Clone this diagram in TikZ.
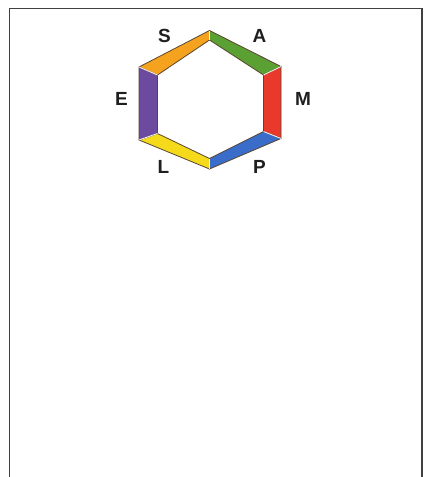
\documentclass[tikz,border=0pt]{standalone}
\usepackage{fontspec}
\setmainfont{Liberation Sans}
\definecolor{cS}{HTML}{F5A21E}
\definecolor{cA}{HTML}{5BA033}
\definecolor{cM}{HTML}{E8392C}
\definecolor{cP}{HTML}{3A6DC9}
\definecolor{cL}{HTML}{F4DA1A}
\definecolor{cE}{HTML}{6B4A9F}
\definecolor{edge}{HTML}{5A4630}
\begin{document}
\begin{tikzpicture}[x=1pt,y=-1pt,
  seg/.style={draw=edge,line width=0.8pt,line join=round},
  sep/.style={draw=white!90!gray,line width=0.9pt},
  lab/.style={font=\fontsize{19}{21}\selectfont\bfseries,text=black!88,inner sep=0pt}]
\useasboundingbox (0,0) rectangle (424,477);
\fill[white] (0,0) rectangle (424,477);
\draw[gray!50!black,line width=1.6pt] (9.5,477) -- (9.5,8.5) -- (422,8.5) -- (422,477);
% outer vertices
\coordinate (o1) at (209.5,30.5);
\coordinate (o2) at (281,66.5);
\coordinate (o3) at (281,138.5);
\coordinate (o4) at (209.5,169);
\coordinate (o5) at (139,140);
\coordinate (o6) at (139,67);
% inner vertices
\coordinate (i1) at (209.5,40);
\coordinate (i2) at (263.5,75);
\coordinate (i3) at (263.5,131.5);
\coordinate (i4) at (209.5,158.5);
\coordinate (i5) at (157.5,133.5);
\coordinate (i6) at (157.5,75);
\fill[cA,seg] (o1) -- (o2) -- (i2) -- (i1) -- cycle;
\fill[cM,seg] (o2) -- (o3) -- (i3) -- (i2) -- cycle;
\fill[cP,seg] (o3) -- (o4) -- (i4) -- (i3) -- cycle;
\fill[cL,seg] (o4) -- (o5) -- (i5) -- (i4) -- cycle;
\fill[cE,seg] (o5) -- (o6) -- (i6) -- (i5) -- cycle;
\fill[cS,seg] (o6) -- (o1) -- (i1) -- (i6) -- cycle;
\draw[sep] (o1) -- (i1);
\draw[sep] (o2) -- (i2);
\draw[sep] (o3) -- (i3);
\draw[sep] (o4) -- (i4);
\draw[sep] (o5) -- (i5);
\draw[sep] (o6) -- (i6);
\node[lab] (S) at (164.5,35.5) {S};
\node[lab] (A) at (259.5,35.5) {A};
\node[lab] (M) at (303,98.5) {M};
\node[lab] (P) at (259.5,167) {P};
\node[lab] (L) at (163.5,167) {L};
\node[lab] (E) at (121.5,98.5) {E};
\end{tikzpicture}
\end{document}
